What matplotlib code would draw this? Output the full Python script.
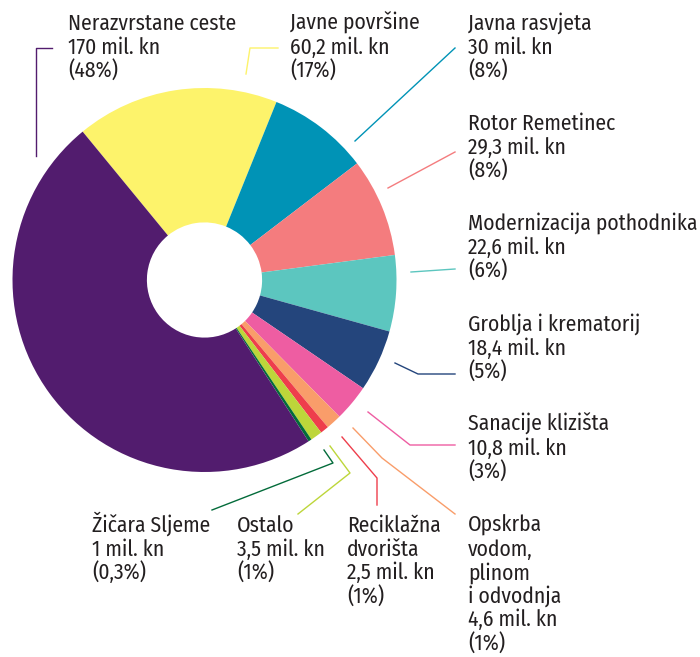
import matplotlib
matplotlib.use("Agg")
import matplotlib.pyplot as plt

## data, clockwise from the top-left edge of the yellow slice
names = ["Javne površine", "Javna rasvjeta", "Rotor Remetinec",
         "Modernizacija pothodnika", "Groblja i krematorij",
         "Sanacije klizišta", "Opskrba vodom, plinom i odvodnja",
         "Reciklažna dvorišta", "Ostalo", "Žičara Sljeme",
         "Nerazvrstane ceste"]
values = [60.2, 30, 29.3, 22.6, 18.4, 10.8, 4.6, 2.5, 3.5, 1, 170]
colors = ["#FDF36B", "#0093B6", "#F47C7E", "#5CC6BF", "#24457C",
          "#EE5DA2", "#F99D6A", "#EE3E4C", "#BDD63A", "#036B3A",
          "#521C6E"]

## label text, one list of lines per slice
label_lines = [
    ["Javne površine", "60,2 mil. kn", "(17%)"],
    ["Javna rasvjeta", "30 mil. kn", "(8%)"],
    ["Rotor Remetinec", "29,3 mil. kn", "(8%)"],
    ["Modernizacija pothodnika", "22,6 mil. kn", "(6%)"],
    ["Groblja i krematorij", "18,4 mil. kn", "(5%)"],
    ["Sanacije klizišta", "10,8 mil. kn", "(3%)"],
    ["Opskrba", "vodom,", "plinom", "i odvodnja", "4,6 mil. kn", "(1%)"],
    ["Reciklažna", "dvorišta", "2,5 mil. kn", "(1%)"],
    ["Ostalo", "3,5 mil. kn", "(1%)"],
    ["Žičara Sljeme", "1 mil. kn", "(0,3%)"],
    ["Nerazvrstane ceste", "170 mil. kn", "(48%)"],
]

## layout in pixels (y measured from the top)
W, H = 700, 657
center = (204.5, 280)
radius = 192
label_pos = [(290, 30), (468, 30), (468, 130), (468, 230), (468, 331),
             (468, 431), (468, 532), (347, 532), (237, 532), (92, 532),
             (68, 30)]
leaders = [
    [(246, 74), (250, 48), (278, 48)],
    [(355, 141), (455, 48)],
    [(388, 188), (455, 152)],
    [(411, 272), (455, 269)],
    [(395, 363), (418, 374), (455, 374)],
    [(368, 412), (410, 445), (455, 445)],
    [(353, 428), (382, 458), (455, 514)],
    [(342, 437), (377, 478), (377, 505)],
    [(330, 446), (350, 473), (298, 514)],
    [(324, 450), (333, 463), (212, 510)],
    [(36, 156), (36, 48), (52, 48)],
]

plt.rcParams["font.family"] = ["Fira Sans Condensed", "DejaVu Sans"]

fig = plt.figure(figsize=(W / 100, H / 100), dpi=100)
ax = fig.add_axes([0, 0, 1, 1])
ax.axis("off")

ax.pie(values, colors=colors, startangle=129.4, counterclock=False,
       center=(center[0], H - center[1]), radius=radius,
       wedgeprops=dict(width=radius * 0.7, linewidth=0))
ax.set_xlim(0, W)
ax.set_ylim(0, H)
ax.set_aspect("equal")

for lines, (x, y), pts, c in zip(label_lines, label_pos, leaders, colors):
    for i, line in enumerate(lines):
        ax.text(x, H - (y + i * 23.6), line, fontsize=15.5, color="#231F20",
                va="baseline", ha="left")
    ax.plot([p[0] for p in pts], [H - p[1] for p in pts], color=c, lw=1)

fig.savefig("out.png", dpi=100)
